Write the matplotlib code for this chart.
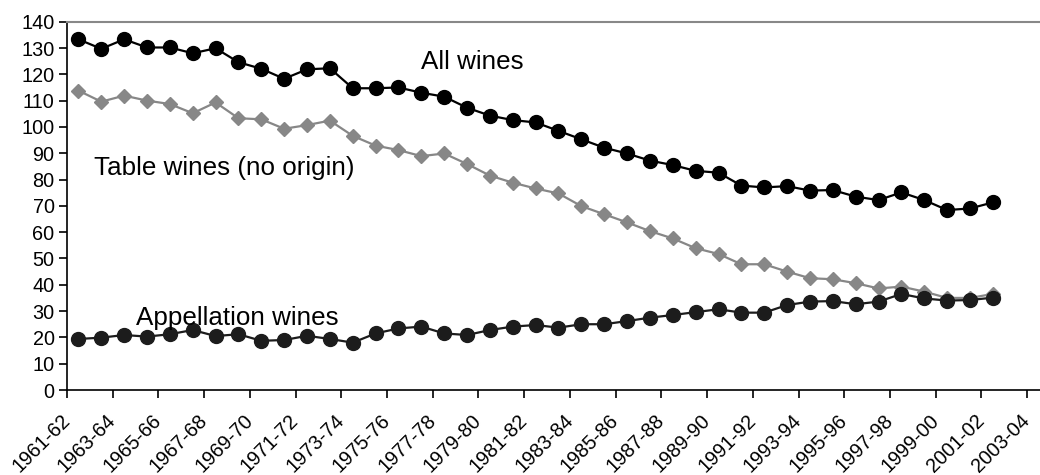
import matplotlib
matplotlib.use("Agg")
import matplotlib.pyplot as plt
import numpy as np

plt.rcParams['font.family'] = ['Liberation Sans', 'DejaVu Sans']

# seasons 1961-62 .. 2001-02, labels every second season on the axis
first_years = list(range(1961, 2002))
tick_years = list(range(1961, 2004, 2))
tick_labels = ["%d-%02d" % (y, (y + 1) % 100) for y in tick_years]

all_wines = [133.3, 129.7, 133.3, 130.2, 130.2, 128.0, 129.9, 124.6, 122.1, 118.3,
             121.9, 122.3, 114.7, 114.7, 115.0, 113.0, 111.5, 107.3, 104.3, 102.6,
             101.7, 98.5, 95.3, 92.1, 89.9, 87.2, 85.5, 83.3, 82.6, 77.7,
             77.0, 77.5, 75.8, 76.0, 73.5, 72.2, 75.1, 72.2, 68.4, 69.0, 71.3]

table_wines = [113.8, 109.6, 111.9, 110.0, 108.7, 105.2, 109.3, 103.3, 102.9, 99.3,
               100.7, 102.4, 96.6, 92.9, 91.2, 88.9, 89.9, 85.9, 81.5, 78.8,
               76.6, 74.7, 69.9, 66.8, 63.7, 60.4, 57.6, 53.9, 51.7, 47.8,
               47.8, 45.0, 42.5, 42.1, 40.6, 38.6, 39.3, 37.4, 35.0, 35.0, 36.5]

appellation = [19.4, 19.9, 20.9, 20.3, 21.2, 22.8, 20.5, 21.2, 18.7, 19.0,
               20.6, 19.4, 18.0, 21.5, 23.4, 24.1, 21.5, 20.9, 22.8, 24.1,
               24.7, 23.7, 25.0, 25.0, 26.2, 27.5, 28.5, 29.6, 30.7, 29.4,
               29.4, 32.3, 33.6, 33.8, 32.6, 33.6, 36.5, 34.8, 34.0, 34.2, 35.1]

# categories sit between the tick marks
x = np.array([y - 1961 for y in first_years]) + 0.5
tick_pos = [y - 1961 for y in tick_years]

fig = plt.figure(figsize=(10.4, 4.75), dpi=100)
ax = fig.add_axes([67 / 1040, 1 - 390 / 475, 1 - 67 / 1040, (390 - 21.7) / 475])

ax.plot(x, table_wines, color='#878787', lw=1.6, marker='D', ms=7.5,
        mec='#878787', mfc='#878787', zorder=2)
ax.plot(x, appellation, color='#1c1c1c', lw=1.6, marker='o', ms=10,
        mec='#1c1c1c', mfc='#1c1c1c', zorder=3)
ax.plot(x, all_wines, color='black', lw=1.6, marker='o', ms=10,
        mec='black', mfc='black', zorder=3)

ax.set_xlim(0, (1040 - 67) / 22.86)
ax.set_ylim(0, 140)
ax.set_yticks(range(0, 141, 10))
ax.set_xticks(tick_pos)
ax.set_xticklabels(tick_labels, rotation=45, ha='right', va='center',
                   rotation_mode='anchor', fontsize=14.3)
ax.tick_params(axis='y', labelsize=14.3, length=6, width=1.2, direction='out', pad=3)
ax.tick_params(axis='x', length=6, width=1.2, direction='out', pad=14)

ax.spines['right'].set_visible(False)
ax.spines['top'].set_color('#888888')
ax.spines['top'].set_linewidth(1.5)
ax.spines['left'].set_linewidth(1.2)
ax.spines['bottom'].set_linewidth(1.2)

ax.text(15.5, 124.5, "All wines", fontsize=18.7, va='center')
ax.text(1.2, 84.5, "Table wines (no origin)", fontsize=18.7, va='center')
ax.text(3.0, 27.5, "Appellation wines", fontsize=18.7, va='center')

fig.savefig("out.png", dpi=100)
